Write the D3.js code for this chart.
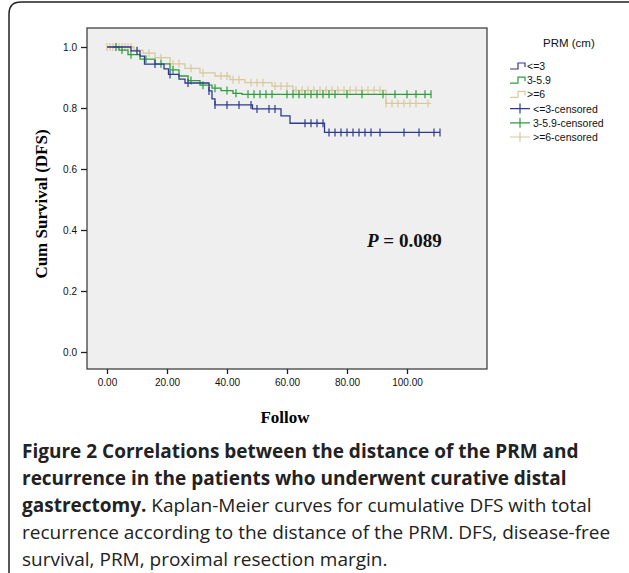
<!DOCTYPE html>
<html><head><meta charset="utf-8">
<script src="https://cdn.jsdelivr.net/npm/d3@7"></script>
<style>body{margin:0;background:#fff}svg{display:block}</style>
</head><body>
<svg id="chart" width="629" height="573"></svg>
<script>
// step curves: [time, survival after event]
const stepsLe3 = [[0,1],[8,0.987],[11,0.97],[12.5,0.944],[19,0.928],[20.5,0.91],[24,0.895],[26,0.882],[34,0.856],[35,0.83],[36,0.81],[48.5,0.797],[58,0.774],[61,0.75],[72.5,0.72],[111,0.72]];
const steps35 = [[2,1],[4,0.99],[7,0.975],[11,0.96],[16,0.945],[21,0.925],[24,0.905],[27,0.89],[31,0.875],[35,0.865],[38,0.857],[42,0.848],[45,0.845],[108,0.845]];
const stepsGe6 = [[0,1],[9,0.99],[12,0.98],[16,0.965],[21,0.945],[26,0.93],[31,0.915],[36,0.905],[41,0.893],[46,0.883],[55,0.872],[62,0.858],[93,0.815],[108,0.815]];
const censLe3 = [10,16,21,27,34,36,40,44,48,50,54,56,66,68,70,72,74,76,78,80,82,84,86,88,91,99,104,109,111];
const cens35 = [3,5,8,13,18,22,28,32,36,40,43,47,49,51,53,55,60,62,64,66,68,70,72,74,76,80,85,92,96,100,103,106,108];
const censGe6 = [0,1,2,3,4,5,6,7,8,10,14,18,22,24,28,32,38,40,42,44,48,50,52,56,58,60,63,65,67,69,71,73,75,77,79,81,83,85,87,89,91,93,95,97,99,101,103,107];
const groups = ['<=3','3-5.9','>=6'];
const colors = ['#2e3a8c','#2d9c3c','#d8c99b'];
const yTicks = [0,0.2,0.4,0.6,0.8,1.0];
const xTicks = [0,20,40,60,80,100];

const svg = d3.select('#chart');
svg.append('path').attr('d','M9,573 V14 Q9,2 21,2 H629').attr('fill','none').attr('stroke','#222').attr('stroke-width',1.5);

const x = d3.scaleLinear().domain([0,100]).range([107,407]);
const y = d3.scaleLinear().domain([0,1]).range([352,47]);

svg.append('rect').attr('x',87).attr('y',28).attr('width',400).attr('height',341)
  .attr('fill','#efefef').attr('stroke','#333').attr('stroke-width',1.2);

const ya = svg.append('g').attr('transform','translate(87,0)')
  .call(d3.axisLeft(y).tickValues(yTicks).tickFormat(d3.format('.1f')).tickSize(6).tickPadding(4));
const xa = svg.append('g').attr('transform','translate(0,369)')
  .call(d3.axisBottom(x).tickValues(xTicks).tickFormat(d3.format('.2f')).tickSize(5).tickPadding(5));
[ya,xa].forEach(a=>{a.select('.domain').remove();a.selectAll('line').attr('stroke','#222').attr('stroke-width',1.3);
  a.selectAll('text').attr('font-family','Liberation Sans, Arial').attr('font-size',10).attr('fill','#111');});

const line = d3.line().x(d=>x(d[0])).y(d=>y(d[1])).curve(d3.curveStepAfter);
const valAt = (st,t)=>{let v=st[0][1];for(const s of st){if(s[0]<=t)v=s[1];}return v;};
const all = [[stepsGe6,censGe6],[steps35,cens35],[stepsLe3,censLe3]];
const cols = [colors[2],colors[1],colors[0]];
all.forEach(([st,cs],i)=>{
  svg.append('path').attr('d',line(st)).attr('fill','none').attr('stroke',cols[i]).attr('stroke-width',1.3);
  svg.append('g').selectAll('line').data(cs).join('line')
    .attr('x1',d=>x(d)).attr('x2',d=>x(d))
    .attr('y1',d=>y(valAt(st,d))-4).attr('y2',d=>y(valAt(st,d))+4)
    .attr('stroke',cols[i]).attr('stroke-width',1.2);
});

svg.append('text').attr('x',367).attr('y',247).attr('font-family','Liberation Serif, Times New Roman')
  .attr('font-size',19).attr('font-weight','bold').attr('fill','#111')
  .html('<tspan font-style="italic">P</tspan> = 0.089');

svg.append('text').attr('transform','translate(47,204) rotate(-90)').attr('text-anchor','middle')
  .attr('font-family','Liberation Serif, Times New Roman').attr('font-weight','bold').attr('font-size',17).text('Cum Survival (DFS)');
svg.append('text').attr('x',285).attr('y',423).attr('text-anchor','middle')
  .attr('font-family','Liberation Serif, Times New Roman').attr('font-weight','bold').attr('font-size',17).text('Follow');

// legend
const lg = svg.append('g').attr('font-family','Liberation Sans, Arial').attr('fill','#111');
lg.append('text').attr('x',543).attr('y',47).attr('font-size',11.5).text('PRM  (cm)');
const labels = groups.concat(groups.map(g=>g+'-censored'));
labels.forEach((t,i)=>{
  const yy = 66 + i*14.2, c = colors[i%3];
  if(i<3){
    lg.append('path').attr('d',`M510,${yy+3} H518 V${yy-3} H525 V${yy+1}`).attr('fill','none').attr('stroke',c).attr('stroke-width',1.2);
  } else {
    lg.append('path').attr('d',`M510,${yy} H530 M520,${yy-5} V${yy+5}`).attr('fill','none').attr('stroke',c).attr('stroke-width',1.2);
  }
  lg.append('text').attr('x',i<3?527:533).attr('y',yy+4).attr('font-size',10.5).text(t);
});

// caption
const cap = svg.append('g').attr('font-family','Open Sans, Noto Sans').attr('font-size',19).attr('fill','#222');
const capLines = [
  [['Figure 2 Correlations between the distance of the PRM and',true]],
  [['recurrence in the patients who underwent curative distal',true]],
  [['gastrectomy.',true],[' Kaplan-Meier curves for cumulative DFS with total',false]],
  [['recurrence according to the distance of the PRM. DFS, disease-free',false]],
  [['survival, PRM, proximal resection margin.',false]]
];
capLines.forEach((ln,i)=>{
  const t = cap.append('text').attr('x',22).attr('y',458+i*27);
  ln.forEach(([s,b])=>t.append('tspan').attr('font-weight',b?'bold':'normal').text(s));
});
</script>
</body></html>
